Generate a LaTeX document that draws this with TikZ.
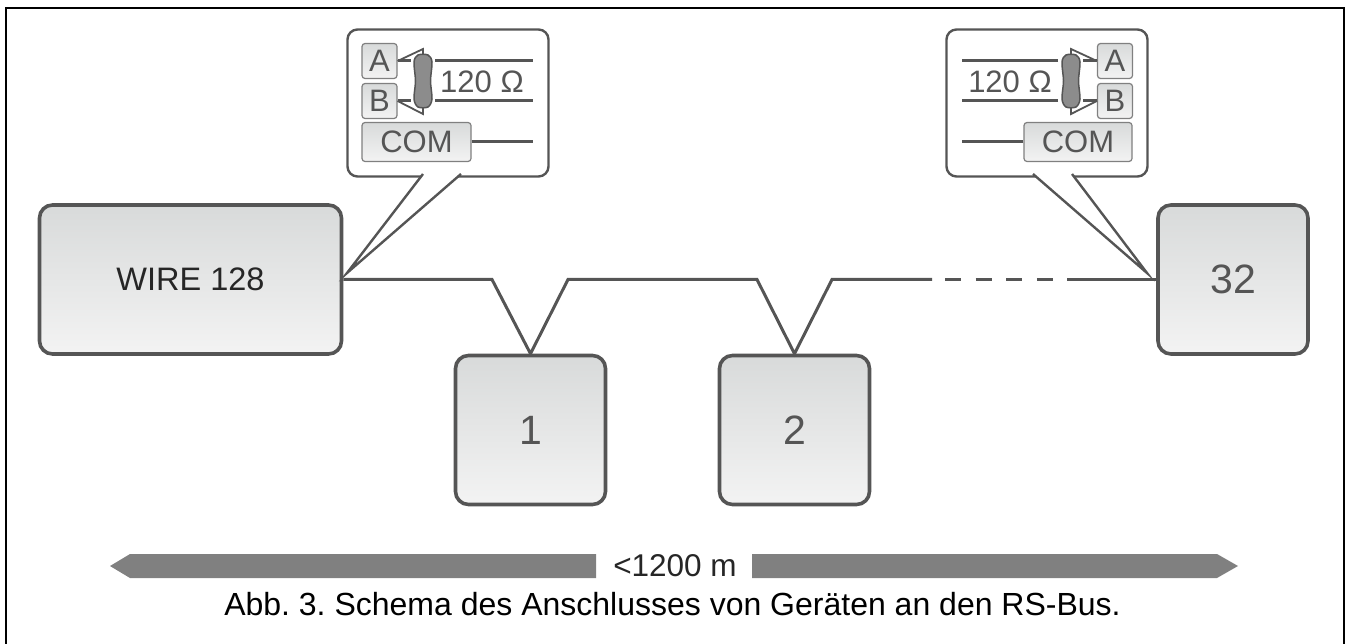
\documentclass[tikz,border=0pt]{standalone}
\usepackage{fontspec}
\setmainfont{Liberation Sans}
\usetikzlibrary{arrows,positioning}

\definecolor{wiregray}{HTML}{555555}
\definecolor{barblue}{HTML}{808080}
\definecolor{blobgray}{HTML}{8C8C8C}
\definecolor{boxtop}{HTML}{D8DADA}
\definecolor{boxbot}{HTML}{F3F3F3}

\newcommand{\fsz}[1]{\fontsize{#1}{#1}\selectfont}

\tikzset{
	device/.style={draw=wiregray, line width=3.6pt, rounded corners=13pt, top color=boxtop, bottom color=boxbot, inner sep=0pt, text=wiregray},
	bubble/.style={draw=wiregray, line width=2.4pt, rounded corners=10pt, fill=white, inner sep=0pt, minimum width=201pt, minimum height=147pt},
	tail/.style={draw=wiregray, line width=2.4pt, fill=white},
	term/.style={draw=gray, line width=1.2pt, rounded corners=3pt, top color=boxtop, bottom color=boxbot, inner sep=0pt, text=wiregray, font=\fsz{31}, minimum height=35pt},
	wire/.style={draw=wiregray, line width=3pt},
	thinwire/.style={draw=wiregray, line width=1.8pt},
	label/.style={inner sep=0pt, text=wiregray, font=\fsz{31}}
}

\begin{document}
\frenchspacing
\begin{tikzpicture}[x=1pt, y=-1pt, node distance=264pt]
	\useasboundingbox (0,0) rectangle (1345,644);
	\draw[line width=2pt] (6,644) -- (6,8.5) -- (1344,8.5) -- (1344,644);

	\node[device, minimum width=302pt, minimum height=149pt, text=black!85, font=\fsz{32.5}] (WIRE) at (190.5,279.5) {WIRE 128};
	\node[device, minimum width=150pt, minimum height=149pt, font=\fsz{41}] (ONE) at (530.5,430) {1};
	\node[device, minimum width=150pt, minimum height=149pt, font=\fsz{41}] (TWO) [right of=ONE] {2};
	\node[device, minimum width=150pt, minimum height=149pt, font=\fsz{41}] (LAST) at (1233,279.5) {32};

	\coordinate (V1L) at (492,279.5);
	\coordinate (V1R) at (568,279.5);
	\coordinate (V2L) at (757,279.5);
	\coordinate (V2R) at (832,279.5);
	\coordinate (DASHZ) at (932,279.5);
	\coordinate (DASHA) at (945,279.5);
	\coordinate (DASHB) at (1053,279.5);
	\coordinate (DASHC) at (1067,279.5);
	\draw[wire] (WIRE.east) -- (V1L) -- (ONE.north) -- (V1R) -- (V2L) -- (TWO.north) -- (V2R) -- (DASHZ);
	\draw[wire, dash pattern=on 16pt off 14.6pt] (DASHA) -- (DASHB);
	\draw[wire] (DASHC) -- (LAST.west);

	% left bubble
	\node[bubble] (LBUB) at (448,103) {};
	\coordinate (LTIP) at (347,273);
	\coordinate (LTA) at (423,174);
	\coordinate (LTB) at (461,174);
	\draw[tail] (LTA) -- (LTIP) -- (LTB);
	\node[term, minimum width=35pt] (LA) at (379.5,61) {A};
	\node[term, minimum width=35pt] (LB) at (379.5,101) {B};
	\node[term, minimum width=109pt, minimum height=39pt] (LCOM) at (416.5,142) {COM};
	\coordinate (LAP) at (423,49);
	\coordinate (LBP) at (423,114);
	\coordinate (LAS) at (411,61);
	\coordinate (LBS) at (411,101);
	\coordinate (LAR) at (435,61);
	\coordinate (LBR) at (435,101);
	\coordinate (LAE) at (533,61);
	\coordinate (LBE) at (533,101);
	\coordinate (LCE) at (533,142);
	\draw[thinwire] (LA.east) -- (LAP) -- (423,56);
	\draw[thinwire] (LB.east) -- (LBP) -- (423,106);
	\draw[wire] (LA.east) -- (LAS);
	\draw[wire] (LB.east) -- (LBS);
	\draw[wire] (LAR) -- (LAE);
	\draw[wire] (LBR) -- (LBE);
	\draw[wire] (LCOM.east) -- (LCE);
	\node[label] (LOHM) at (482,82) {120 Ω};

	% right bubble
	\node[bubble] (RBUB) at (1047,103) {};
	\coordinate (RTIP) at (1147,273);
	\coordinate (RTA) at (1033,174);
	\coordinate (RTB) at (1072,174);
	\draw[tail] (RTA) -- (RTIP) -- (RTB);
	\node[term, minimum width=35pt] (RA) at (1115,61) {A};
	\node[term, minimum width=35pt] (RB) at (1115,101) {B};
	\node[term, minimum width=108pt, minimum height=39pt] (RCOM) at (1078,142) {COM};
	\coordinate (RAP) at (1071,49);
	\coordinate (RBP) at (1071,114);
	\coordinate (RAS) at (1083,61);
	\coordinate (RBS) at (1083,101);
	\coordinate (RAR) at (1058,61);
	\coordinate (RBR) at (1058,101);
	\coordinate (RAE) at (962,61);
	\coordinate (RBE) at (962,101);
	\coordinate (RCE) at (962,142);
	\draw[thinwire] (RA.west) -- (RAP) -- (1071,56);
	\draw[thinwire] (RB.west) -- (RBP) -- (1071,106);
	\draw[wire] (RA.west) -- (RAS);
	\draw[wire] (RB.west) -- (RBS);
	\draw[wire] (RAR) -- (RAE);
	\draw[wire] (RBR) -- (RBE);
	\draw[wire] (RCOM.west) -- (RCE);
	\node[label] (ROHM) at (1010,82) {120 Ω};

	\foreach \cx in {423,1071}
		\draw[draw=wiregray, line width=1.5pt, fill=blobgray, shift={(\cx,0)}] plot[smooth cycle, tension=0.5] coordinates {(-5,55)(5,55)(9,62)(7.5,81)(9,99)(5,107)(-5,107)(-9,99)(-7.5,81)(-9,62)};

	% length bar
	\fill[barblue] (110,566) -- (130,554) -- (596,554) -- (596,578) -- (130,578) -- cycle;
	\fill[barblue] (1238,566) -- (1217,554) -- (752,554) -- (752,578) -- (1217,578) -- cycle;
	\node[inner sep=0pt, font=\fsz{31.5}, text=black!85] (LEN) at (675,566) {<1200 m};
	\node[inner sep=0pt, font=\fsz{32}] (CAP) at (672.5,604) {Abb. 3. Schema des Anschlusses von Geräten an den RS-Bus.};
\end{tikzpicture}
\end{document}
